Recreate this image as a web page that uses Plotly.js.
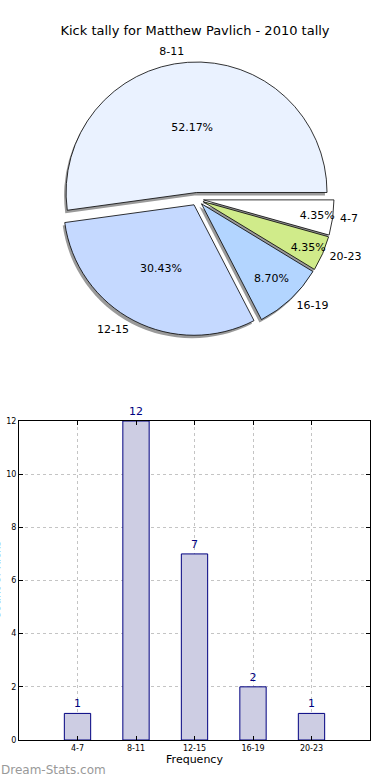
<!DOCTYPE html>
<html>
<head>
<meta charset="utf-8">
<script src="https://cdn.plot.ly/plotly-3.0.1.min.js"></script>
<style>html,body{margin:0;padding:0;background:#fff;}#chart{width:390px;height:780px;}</style>
</head>
<body>
<div id="chart"></div>
<script>
const categories = ["4-7", "8-11", "12-15", "16-19", "20-23"];
const tallies = [1, 12, 7, 2, 1];
const sliceColors = ["#ffffff", "#eaf2ff", "#c5d9ff", "#b3d5ff", "#d0eb8a"];
const titleText = "Kick tally for Matthew Pavlich - 2010 tally";
const xTitle = "Frequency";
const yTitle = "Count of Kicks";
const watermark = "Dream-Stats.com";

const W = 390, H = 780;
const px = (v) => v / W;
const py = (v) => 1 - v / H;

// pie geometry (pixels): centre and half-size of the square domain
const cx = 197, cy = 199, half = 137, labelHalf = 141;
const dom = (h, dx, dy) => ({x: [px(cx - h + dx), px(cx + h + dx)], y: [py(cy + h + dy), py(cy - h + dy)]});
const pulls = [0.05, 0.05, 0.05, 0.05, 0.05];
const font = "DejaVu Sans, sans-serif";

const shadow = {
  type: "pie", values: tallies, labels: categories, sort: false,
  direction: "counterclockwise", rotation: 90, pull: pulls,
  domain: dom(half, -2, 3), textinfo: "none", hoverinfo: "skip",
  marker: {colors: categories.map(() => "#9a9a9a"), line: {width: 0}},
  showlegend: false
};
const pie = {
  type: "pie", values: tallies, labels: categories, sort: false,
  direction: "counterclockwise", rotation: 90, pull: pulls,
  domain: dom(half, 0, 0), textposition: "inside", insidetextorientation: "horizontal",
  texttemplate: "%{percent:.2%}", textfont: {family: font, size: 11, color: "#000"},
  marker: {colors: sliceColors, line: {color: "#000", width: 0.8}},
  showlegend: false
};
const pieLabels = {
  type: "pie", values: tallies, labels: categories, sort: false,
  direction: "counterclockwise", rotation: 90, pull: pulls,
  domain: dom(labelHalf, 0, 0), textposition: "outside", texttemplate: "%{label}",
  textfont: {family: font, size: 11, color: "#000"},
  marker: {colors: categories.map(() => "rgba(0,0,0,0)"), line: {width: 0}},
  hoverinfo: "skip", showlegend: false
};
const bars = {
  type: "bar", x: categories, y: tallies, width: 0.45,
  marker: {color: "#cdcde3", line: {color: "#000080", width: 1}},
  texttemplate: "%{y}", textposition: "outside", cliponaxis: false, constraintext: "none",
  textfont: {family: font, size: 11, color: "#000080"},
  xaxis: "x", yaxis: "y", showlegend: false
};

const layout = {
  width: W, height: H, margin: {l: 0, r: 0, t: 0, b: 0},
  paper_bgcolor: "#fff", plot_bgcolor: "#fff",
  font: {family: font, color: "#000"},
  uniformtext: {mode: "show", minsize: 11},
  title: {text: titleText, font: {family: font, size: 13, color: "#000"}, x: 0.5, xanchor: "center", y: py(30), yanchor: "middle"},
  xaxis: {
    domain: [px(19), px(370)], anchor: "y", type: "category", range: [-1, 5],
    showline: true, mirror: "allticks", linecolor: "#000", linewidth: 1,
    ticks: "inside", ticklen: 4, tickcolor: "#000",
    showgrid: true, gridcolor: "#c4c4c4", griddash: "dot", gridwidth: 1,
    tickfont: {family: font, size: 8, color: "#000"},
    title: {text: xTitle, font: {family: font, size: 11, color: "#000"}, standoff: 3},
    zeroline: false
  },
  yaxis: {
    domain: [py(740), py(421)], anchor: "x", range: [0, 12], dtick: 2,
    showline: true, mirror: "allticks", linecolor: "#000", linewidth: 1,
    ticks: "inside", ticklen: 4, tickcolor: "#000",
    showgrid: true, gridcolor: "#c4c4c4", griddash: "dot", gridwidth: 1,
    tickfont: {family: font, size: 8, color: "#000"},
    zeroline: false
  },
  annotations: [
    {text: yTitle, xref: "paper", yref: "paper", x: px(4), y: py(580), xanchor: "right", yanchor: "middle",
     textangle: -90, showarrow: false, font: {family: font, size: 11, color: "#000"}},
    {text: watermark, xref: "paper", yref: "paper", x: px(-1), y: py(770), xanchor: "left", yanchor: "middle",
     showarrow: false, font: {family: "DejaVu Sans, sans-serif", size: 12, color: "#999999"}}
  ]
};

Plotly.newPlot("chart", [shadow, pie, pieLabels, bars], layout, {displayModeBar: false, staticPlot: true});
</script>
</body>
</html>
